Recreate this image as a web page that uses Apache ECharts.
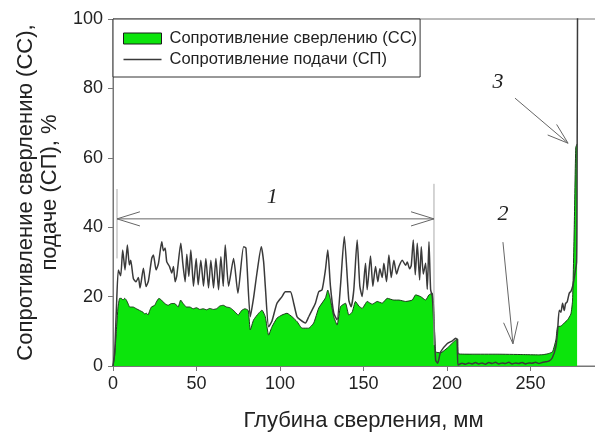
<!DOCTYPE html>
<html>
<head>
<meta charset="utf-8">
<script src="https://cdn.jsdelivr.net/npm/echarts@6/dist/echarts.min.js"></script>
<style>html,body{margin:0;padding:0;background:#fff;}#c{width:595px;height:439px;}</style>
</head>
<body>
<div id="c"></div>
<script>
// ---- data ----
var xTicks = [0, 50, 100, 150, 200, 250];
var yTicks = [0, 20, 40, 60, 80, 100];
var seriesNames = ['Сопротивление сверлению (СС)', 'Сопротивление подачи (СП)'];

var ccDepth = [0,1,2,3,4,5,6,7,8,9,10,12,14,16,18,19,20,21,22,23,25,26,27.5,29,31,33,35,37,39,40.5,42,44,46,48,50,52,54,56,58,60,62,64,66,68,70,72,75,77,79,81,82.2,84.2,87.2,89.2,91.2,93.2,95.2,98.2,101.2,104.2,107.2,110.2,113.2,117.2,120.2,123.2,127.2,128.6,130.2,132.2,134.2,136.2,139.2,141.2,143.2,145.2,147.2,149.2,152.2,155.2,158.2,161.2,164.2,168.2,171.2,175.2,179.2,181.2,184.2,187.2,189.2,191.2,192.2,193.2,196.2,200.2,203,205.2,206.4,206.8,215,230,245,255,258,261,263.2,265.2,266.2,268.2,270.2,272.2,274.2,275.2,276.2,277.1,277.9];
var ccValue = [0,3,10,17,19.5,19.5,19,19.5,19,18,17,17,16.5,16,15.5,15,15.2,14.7,16,17,17.5,18.5,19.5,19,18,17.5,18,18,17,19,18,17,17,16.5,16.8,16.3,16.5,16.2,16.6,16.3,16.5,17.3,17.5,17,16.8,16.1,14.7,16,16.5,16,10.4,13.3,15.2,16.1,14.2,8.9,11.3,13.8,14.7,15.2,14.2,12.8,10.9,10.9,12.4,16.7,19.6,21.9,19.2,14.2,11.8,17.1,18.1,14.7,15.5,18.6,17.3,16.6,18.6,17.8,18.6,18.1,19.5,19,19,18.6,19,20.5,20,19,20.5,21,16,4.1,3.8,5.2,6.5,7.5,7.8,3.5,3.4,3.4,3.3,3.2,3.3,3.6,4.1,7.5,11.3,11.5,12.4,13.3,15,19,40,63,64];

var spDepth = [0,1,2,3.2,4.6,5.8,7.2,8.6,9.8,10.6,12.2,13.8,15.2,16.2,18.2,19.8,21.2,23.2,24.2,25.8,27.2,29.2,30.2,31.2,32.2,33.8,35.2,36.2,37.2,38.2,40.6,41.8,43.2,44.2,45.4,46.6,48.2,49.8,51,52.6,54.2,55.6,57.2,58.6,60.2,61.6,63.2,64.6,66,67.2,69.2,72.2,74.8,78.2,79.6,82.2,84.2,86.2,88.8,90.2,91.2,93.2,95.2,98.2,101.2,103.2,106.2,108.2,110.2,112.2,115.2,117.2,119.2,121.2,123.2,125.2,127.2,128.6,130.2,132.2,134.2,136.2,138.5,141.2,142.6,144.2,146.2,147.8,149.2,151.2,152.2,154.2,155.6,157.2,158.6,159.8,161.2,162.2,163.8,165.2,166.6,168.2,169.8,171.2,173.2,175.2,176.2,177.6,178.6,179.8,181,182.2,183.6,184.6,185.8,187.2,188.2,189.2,190.2,191.2,192.2,193.2,194.4,196.2,200.2,203,205.2,206,206.5,207,209,211,213,215,217,219,221,223,225,227,229,231,233,235,237,239,241,243,245,247,249,251,253,255,257,259,261,263,265.2,266.2,267.2,268.2,269.2,270.2,271,272,273.2,274.2,275.2,276.2,277.6,277.9,278.2];
var spValue = [0,4,16,27.7,26,33.4,27.7,34.9,29.1,30.5,25.2,24.3,25.5,22.5,28.2,22.9,24.5,31,32,27.7,29.5,35.8,33.2,34,30,28.7,26.8,28.7,24.3,26,35.4,29.6,24.3,32.2,25.8,33.4,23,31,23.4,30.5,23,31,22.5,30.5,22.5,31,22,31.5,23,34.9,23,31,21,34.4,34,14.2,19.7,26.8,34.4,30,23,11.3,13,18.1,20,21.4,21.4,18.1,14.2,13.3,12.4,14.2,16.1,18.1,21.4,22,27.7,33.4,23,15.2,13.3,23,37.3,19,17.1,22,36.3,23,20,29.6,22,31.7,23,28.7,24.3,28,25.5,29.6,24.3,32,25.5,30.5,26.5,28.7,30.5,29,30,28,29,36.3,26.3,35.4,24.8,34.4,26.5,29.6,22.1,35.8,22,20,12,1.7,0.8,4.1,6.5,7.2,8,7.6,0.3,0.4,0.8,0.5,0.9,0.6,1.0,0.6,0.9,0.5,1.0,0.7,1.1,0.6,0.9,0.7,1.1,0.6,0.9,0.7,1.0,0.6,0.9,0.8,1.1,0.7,1.0,1.2,1.4,2.3,5.6,10,16.1,15.5,18.1,16,18,18.5,21,21.5,22.9,25.5,30,56,110];

// annotation anchors (data space)
var zone1 = {from: 2.4, to: 192.2, y: 42.4, label: '1', labelAt: [95.4, 48.6]};
var note2 = {label: '2', labelAt: [233.5, 43.8], from: [233.5, 35.7], to: [239.5, 6.4]};
var note3 = {label: '3', labelAt: [230.5, 81.8], from: [240.7, 77.2], to: [272.5, 64.2]};

function pairs(xs, ys){ var r=[]; for (var i=0;i<xs.length;i++) r.push([xs[i], ys[i]]); return r; }

var GREEN = '#0ce40c';
var SPC = '#3a3a3a';
var chart = echarts.init(document.getElementById('c'), null, {renderer:'canvas'});
var FONT = 'Liberation Sans, Arial, sans-serif';

chart.setOption({
  animation: false,
  backgroundColor: '#fff',
  grid: {left: 113, top: 19, width: 501, height: 347, containLabel: false, outerBoundsMode: 'none',
         show: true, borderColor: '#777', borderWidth: 1},
  legend: {
    orient: 'vertical', left: 113, top: 19,
    itemWidth: 38, itemHeight: 11, itemGap: 4,
    padding: [11, 3, 9, 10],
    borderColor: '#333', borderWidth: 1, backgroundColor: '#fff',
    textStyle: {fontFamily: FONT, fontSize: 16.5, color: '#222', padding: [0,0,0,3]},
    data: [
      {name: seriesNames[0], icon: 'rect', itemStyle: {color: GREEN, borderColor: '#1a1a1a', borderWidth: 1}},
      {name: seriesNames[1], icon: 'path://M0,0H38V1.3H0Z', itemStyle: {color: SPC, borderWidth: 0}}
    ]
  },
  xAxis: {
    type: 'value', min: 0, max: 300, interval: 50,
    name: 'Глубина сверления, мм', nameLocation: 'middle', nameGap: 44,
    nameTextStyle: {fontFamily: FONT, fontSize: 22, color: '#222'},
    axisLine: {show: true, lineStyle: {color: '#777', width: 1}},
    axisTick: {show: true, inside: false, length: 5, lineStyle: {color: '#777'}},
    axisLabel: {fontFamily: FONT, fontSize: 18, color: '#222', margin: 9,
      formatter: function(v){ return xTicks.indexOf(v) >= 0 ? String(v) : ''; }},
    splitLine: {show: false}
  },
  yAxis: {
    type: 'value', min: 0, max: 100, interval: 20,
    name: 'Сопротивление сверлению (СС),\nподаче (СП), %', nameLocation: 'middle', nameGap: 50, nameRotate: 90,
    nameTextStyle: {fontFamily: FONT, fontSize: 22, color: '#222', lineHeight: 24},
    axisLine: {show: true, lineStyle: {color: '#777', width: 1}},
    axisTick: {show: true, inside: false, length: 5, lineStyle: {color: '#777'}},
    axisLabel: {fontFamily: FONT, fontSize: 18, color: '#222', margin: 10,
      formatter: function(v){ return yTicks.indexOf(v) >= 0 ? String(v) : ''; }},
    splitLine: {show: false}
  },
  series: [
    {name: seriesNames[0], type: 'line', data: pairs(ccDepth, ccValue), symbol: 'none', z: 2, smooth: 0.15,
     lineStyle: {color: '#1d3a1d', width: 1}, itemStyle: {color: GREEN},
     areaStyle: {color: GREEN, opacity: 1}},
    {name: seriesNames[1], type: 'line', data: pairs(spDepth, spValue), symbol: 'none', z: 3, smooth: 0.2,
     lineStyle: {color: SPC, width: 1.5}, itemStyle: {color: SPC}}
  ]
});

function px(p){ return chart.convertToPixel({gridIndex: 0}, p); }
function head(tip, from, len, halfAng){
  var dx = from[0]-tip[0], dy = from[1]-tip[1], d = Math.sqrt(dx*dx+dy*dy);
  var ux = dx/d, uy = dy/d, c = Math.cos(halfAng), s = Math.sin(halfAng);
  var a = [tip[0] + len*(ux*c - uy*s), tip[1] + len*(ux*s + uy*c)];
  var b = [tip[0] + len*(ux*c + uy*s), tip[1] + len*(-ux*s + uy*c)];
  return {type: 'polyline', shape: {points: [a, tip, b]}, style: {stroke: '#666', lineWidth: 1, fill: null}, z: 10};
}
function seg(p, q, color){ return {type: 'line', shape: {x1: p[0], y1: p[1], x2: q[0], y2: q[1]}, style: {stroke: color || '#666', lineWidth: 1}, z: 10}; }
function label(t, at){ return {type: 'text', x: at[0], y: at[1], style: {text: t, font: 'italic 22px "Liberation Serif", "DejaVu Serif", serif', fill: '#222', textAlign: 'center', textVerticalAlign: 'middle'}, z: 11}; }

var L = px([zone1.from, zone1.y]), R = px([zone1.to, zone1.y]);
var gL1 = px([zone1.from, 51]), gL2 = px([zone1.from, 31]);
var gR1 = px([zone1.to, 52.5]), gR2 = px([zone1.to, 6]);
var n2a = px(note2.from), n2b = px(note2.to), n3a = px(note3.from), n3b = px(note3.to);
chart.setOption({graphic: [
  seg(gL1, gL2, '#aaa'), seg(gR1, gR2, '#aaa'),
  seg(L, R), head(L, R, 24, 0.3), head(R, L, 24, 0.3),
  label(zone1.label, px(zone1.labelAt)),
  seg(n2a, n2b), head(n2b, n2a, 23, 0.32), label(note2.label, px(note2.labelAt)),
  seg(n3a, n3b), head(n3b, n3a, 22, 0.32), label(note3.label, px(note3.labelAt))
]});
</script>
</body>
</html>
